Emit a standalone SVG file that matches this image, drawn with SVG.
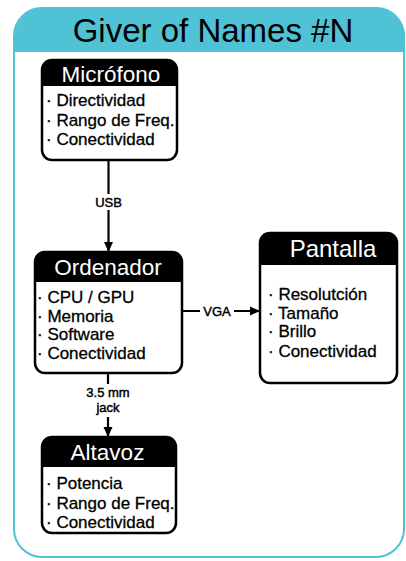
<svg xmlns="http://www.w3.org/2000/svg" width="406" height="561" viewBox="0 0 406 561">
  <style>
    text { font-family: "Liberation Sans", Arial, Helvetica, sans-serif; }
    .title { font-size: 33px; fill: #000; text-anchor: middle; }
    .box { fill: none; stroke: #000; stroke-width: 2.5; }
    .body { fill: #fff; }
    .head { fill: #000; }
    .htxt { font-size: 22.5px; fill: #fff; text-anchor: middle; }
    .item { font-size: 17px; fill: #000; stroke: #000; stroke-width: 0.3; }
    .lbl { font-size: 13px; fill: #000; stroke: #000; stroke-width: 0.45; text-anchor: middle; }
    .wire { stroke: #000; stroke-width: 2.2; fill: none; }
    .gap { fill: #fff; }
  </style>
  <defs>
    <marker id="arrow" markerUnits="userSpaceOnUse" markerWidth="10" markerHeight="10" refX="9" refY="5" orient="auto">
      <path d="M0,0.5 L10,5 L0,9.5 Z" fill="#000"/>
    </marker>
  </defs>

  <rect width="406" height="561" fill="#fff"/>

  <!-- card with teal title band -->
  <g id="card">
    <path d="M14,52 V38 A30,30 0 0 1 44,8 H375 A30,30 0 0 1 405,38 V52 Z" fill="#4fc3d5"/>
    <rect x="14" y="8" width="390" height="549" rx="28" fill="none" stroke="#4fc3d5" stroke-width="2"/>
    <text class="title" x="213" y="42">Giver of Names #N</text>
  </g>

  <!-- connectors -->
  <g id="connectors">
    <line class="wire" x1="108.5" y1="160" x2="108.5" y2="251" marker-end="url(#arrow)"/>
    <rect class="gap" x="93" y="194" width="31" height="16"/>
    <text class="lbl" x="108.5" y="207">USB</text>

    <line class="wire" x1="182" y1="311" x2="259" y2="311" marker-end="url(#arrow)"/>
    <rect class="gap" x="200" y="303" width="34" height="16"/>
    <text class="lbl" x="217" y="315.5">VGA</text>

    <line class="wire" x1="108" y1="373" x2="108" y2="436" marker-end="url(#arrow)"/>
    <rect class="gap" x="82" y="384" width="52" height="33"/>
    <text class="lbl" x="108" y="396.5">3.5 mm</text>
    <text class="lbl" x="108" y="411.5">jack</text>
  </g>

  <!-- Micrófono -->
  <g id="microfono">
    <rect class="body" x="42" y="60" width="135" height="100" rx="10"/>
    <path class="head" d="M42,86 V70 A10,10 0 0 1 52,60 H167 A10,10 0 0 1 177,70 V86 Z"/>
    <rect class="box" x="42" y="60" width="135" height="100" rx="10"/>
    <text class="htxt" x="111" y="81.5">Micrófono</text>
    <text class="item" x="46" y="105.5">· Directividad</text>
    <text class="item" x="46" y="125.5">· Rango de Freq.</text>
    <text class="item" x="46" y="145">· Conectividad</text>
  </g>

  <!-- Ordenador -->
  <g id="ordenador">
    <rect class="body" x="35" y="252" width="147" height="121" rx="10"/>
    <path class="head" d="M35,282 V262 A10,10 0 0 1 45,252 H172 A10,10 0 0 1 182,262 V282 Z"/>
    <rect class="box" x="35" y="252" width="147" height="121" rx="10"/>
    <text class="htxt" x="108" y="274.5">Ordenador</text>
    <text class="item" x="37" y="303">· CPU / GPU</text>
    <text class="item" x="37" y="321.5">· Memoria</text>
    <text class="item" x="37" y="340">· Software</text>
    <text class="item" x="37" y="359">· Conectividad</text>
  </g>

  <!-- Pantalla -->
  <g id="pantalla">
    <rect class="body" x="260" y="233" width="137" height="150" rx="10"/>
    <path class="head" d="M260,265 V243 A10,10 0 0 1 270,233 H387 A10,10 0 0 1 397,243 V265 Z"/>
    <rect class="box" x="260" y="233" width="137" height="150" rx="10"/>
    <text class="htxt" x="333" y="257" style="font-size:24px">Pantalla</text>
    <text class="item" x="268" y="300">· Resolutción</text>
    <text class="item" x="268" y="318.5">· Tamaño</text>
    <text class="item" x="268" y="337">· Brillo</text>
    <text class="item" x="268" y="356.5">· Conectividad</text>
  </g>

  <!-- Altavoz -->
  <g id="altavoz">
    <rect class="body" x="42" y="437" width="134" height="96" rx="10"/>
    <path class="head" d="M42,467 V447 A10,10 0 0 1 52,437 H166 A10,10 0 0 1 176,447 V467 Z"/>
    <rect class="box" x="42" y="437" width="134" height="96" rx="10"/>
    <text class="htxt" x="107.5" y="460">Altavoz</text>
    <text class="item" x="46" y="489">· Potencia</text>
    <text class="item" x="46" y="509">· Rango de Freq.</text>
    <text class="item" x="46" y="527.5">· Conectividad</text>
  </g>
</svg>
